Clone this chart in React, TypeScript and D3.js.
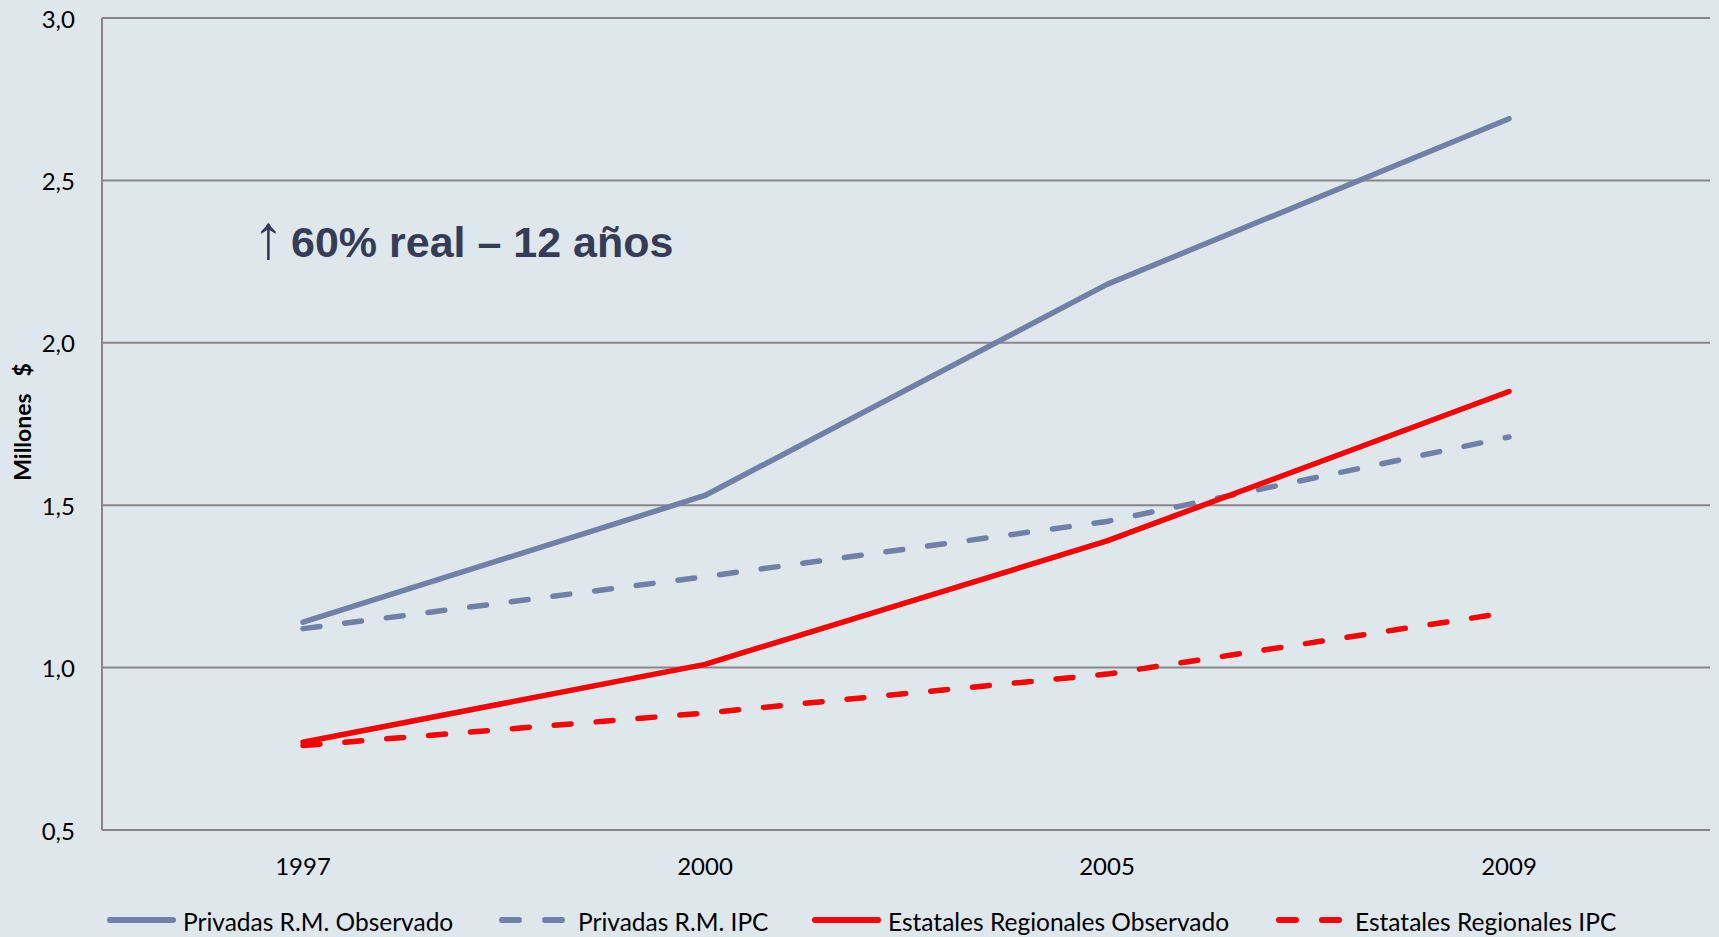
import React from "react";
import * as d3 from "d3";

const years = ["1997", "2000", "2005", "2009"];
const privadasObservado = [1.14, 1.53, 2.18, 2.69];
const privadasIPC = [1.12, 1.28, 1.45, 1.71];
const estatalesObservado = [0.77, 1.01, 1.39, 1.85];
const estatalesIPC = [0.76, 0.86, 0.98, 1.17];
const yTicks = [0.5, 1.0, 1.5, 2.0, 2.5, 3.0];
const seriesNames = [
  "Privadas R.M. Observado",
  "Privadas R.M. IPC",
  "Estatales Regionales Observado",
  "Estatales Regionales IPC",
];

const W = 1719;
const H = 937;
const BG = "#DEE8EC";
const GRID = "#878787";
const BLUE = "#7280A8";
const RED = "#FF0000";
const FONT = "Lato, 'Open Sans', sans-serif";

export default function App() {
  const left = 102, right = 1710, top = 18, bottom = 830;
  const x = d3.scaleBand().domain(years).range([left, right]);
  const y = d3.scaleLinear().domain([0.5, 3.0]).range([bottom, top]);
  const cx = (yr: string) => (x(yr) as number) + x.bandwidth() / 2;

  const series = [
    { name: seriesNames[0], values: privadasObservado, color: BLUE, dash: undefined },
    { name: seriesNames[1], values: privadasIPC, color: BLUE, dash: "17 25" },
    { name: seriesNames[2], values: estatalesObservado, color: RED, dash: undefined },
    { name: seriesNames[3], values: estatalesIPC, color: RED, dash: "17 25" },
  ];

  const line = d3
    .line<number>()
    .x((_, i) => cx(years[i]))
    .y((v) => y(v));

  const legendItems = [
    { lx: 107, tx: 183 },
    { lx: 499, tx: 578 },
    { lx: 812, tx: 888 },
    { lx: 1276, tx: 1355 },
  ];
  const fmt = (v: number) => v.toFixed(1).replace(".", ",");

  return (
    <svg
      width={W}
      height={H}
      style={{ position: "absolute", left: 0, top: 0, display: "block" }}
    >
      <rect x={0} y={0} width={W} height={H} fill={BG} />
      {yTicks.map((t) => (
        <g key={t}>
          <line x1={left} x2={right} y1={y(t)} y2={y(t)} stroke={GRID} strokeWidth={2} />
          <text
            x={75}
            y={y(t)}
            textAnchor="end"
            dominantBaseline="central"
            fontFamily={FONT}
            fontSize={24}
            fill="#000"
          >
            {fmt(t)}
          </text>
        </g>
      ))}
      <line x1={left} x2={left} y1={top} y2={bottom} stroke={GRID} strokeWidth={2} />
      {years.map((yr) => (
        <text
          key={yr}
          x={cx(yr)}
          y={865}
          textAnchor="middle"
          dominantBaseline="central"
          fontFamily={FONT}
          fontSize={24}
          fill="#000"
        >
          {yr}
        </text>
      ))}
      <text
        transform={`translate(22,422) rotate(-90)`}
        textAnchor="middle"
        dominantBaseline="central"
        fontFamily={FONT}
        fontWeight="bold"
        fontSize={23}
        fill="#000"
        style={{ whiteSpace: "pre" }}
      >
        {"Millones   $"}
      </text>
      {series.map((s) => (
        <path
          key={s.name}
          d={line(s.values) || ""}
          fill="none"
          stroke={s.color}
          strokeWidth={5.5}
          strokeDasharray={s.dash}
          strokeLinecap="round"
          strokeLinejoin="round"
        />
      ))}
      <text x={253} y={258} fontFamily="'Liberation Sans', Arial, sans-serif" fontSize={62} fill="#353C55">
        ↑
      </text>
      <text
        x={291}
        y={257}
        fontFamily="'Liberation Sans', Arial, sans-serif"
        fontWeight="bold"
        fontSize={43}
        fill="#353C55"
      >
        60% real – 12 años
      </text>
      {series.map((s, i) => (
        <g key={"lg" + i}>
          <line
            x1={legendItems[i].lx + 3}
            x2={legendItems[i].lx + 66}
            y1={920}
            y2={920}
            stroke={s.color}
            strokeWidth={6}
            strokeLinecap="round"
            strokeDasharray={s.dash ? "17 26" : undefined}
          />
          <text
            x={legendItems[i].tx}
            y={921}
            dominantBaseline="central"
            fontFamily={FONT}
            fontSize={24.5}
            fill="#000"
          >
            {s.name}
          </text>
        </g>
      ))}
    </svg>
  );
}
